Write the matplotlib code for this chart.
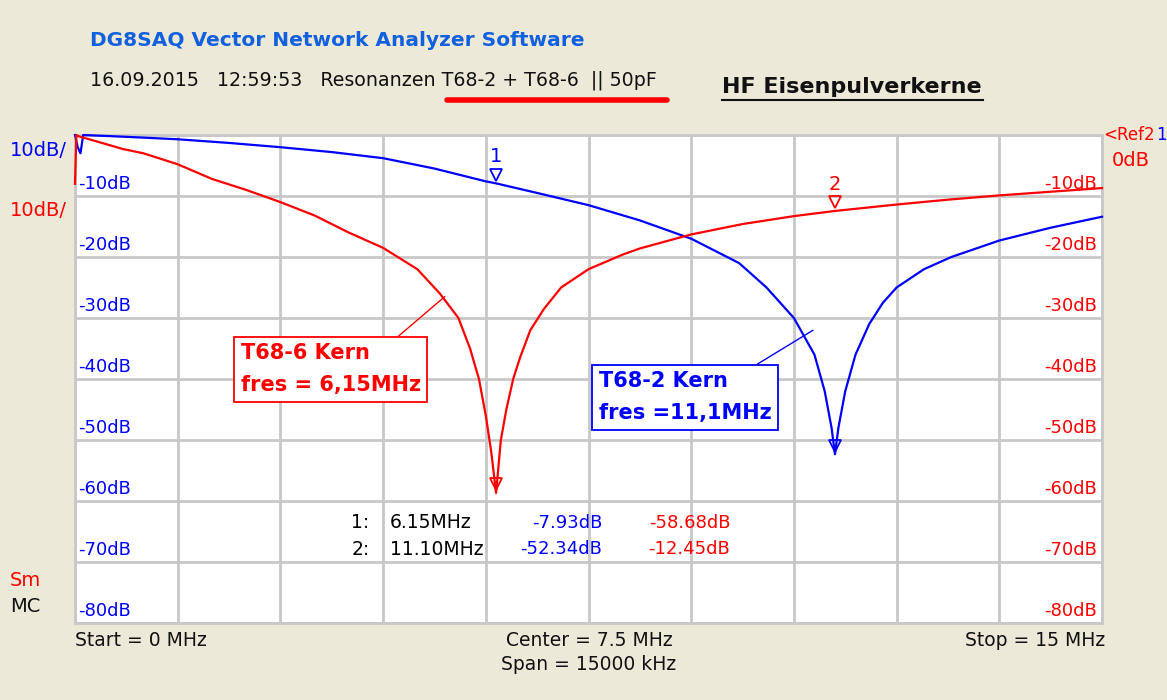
import matplotlib
matplotlib.use("Agg")
import matplotlib.pyplot as plt
from matplotlib.lines import Line2D

# ---- data ----
freq_red = [0.0, 0.02, 0.05, 0.3, 0.7, 1.0, 1.5, 2.0, 2.5, 3.0, 3.5, 4.0, 4.5, 5.0, 5.33, 5.6, 5.77,
            5.9, 6.0, 6.08, 6.15, 6.22, 6.3, 6.4, 6.5, 6.65, 6.85, 7.1, 7.5, 8.0, 8.25, 9.0, 9.75,
            10.5, 11.1, 12.0, 12.75, 13.5, 14.25, 15.0]
db_red = [-8.0, 0.0, -0.2, -1.0, -2.3, -3.0, -4.8, -7.2, -9.0, -11.0, -13.2, -16.0, -18.5, -22.0,
          -26.0, -30.0, -35.0, -40.0, -46.0, -52.0, -58.68, -50.0, -45.0, -40.0, -36.5, -32.0,
          -28.5, -25.0, -22.0, -19.6, -18.6, -16.3, -14.6, -13.3, -12.45, -11.4, -10.6, -9.9,
          -9.3, -8.7]
freq_blue = [0.0, 0.04, 0.08, 0.12, 0.75, 1.5, 2.25, 3.0, 3.75, 4.5, 5.25, 6.0, 6.15, 6.75, 7.5, 8.25,
             9.0, 9.7, 10.1, 10.5, 10.8, 10.95, 11.05, 11.1, 11.15, 11.25, 11.4, 11.6, 11.8, 12.0,
             12.4, 12.8, 13.5, 14.25, 15.0]
db_blue = [0.0, -2.0, -3.0, 0.0, -0.3, -0.7, -1.3, -2.0, -2.8, -3.8, -5.5, -7.6, -7.93, -9.5, -11.5,
           -14.0, -17.0, -21.0, -25.0, -30.0, -36.0, -42.0, -48.0, -52.34, -48.0, -42.0, -36.0,
           -31.0, -27.5, -25.0, -22.0, -20.0, -17.3, -15.2, -13.4]
marker_freq = [6.15, 11.10]
marker_blue = [-7.93, -52.34]
marker_red = [-58.68, -12.45]
yticks = [-10, -20, -30, -40, -50, -60, -70, -80]

BG = "#ECE9D8"
BLUE = "#0000FF"
RED = "#FF0000"
GRID = "#C8C8C8"
FONT = "DejaVu Sans"

W, H = 1167, 700
fig = plt.figure(figsize=(W / 100, H / 100), dpi=100, facecolor=BG)

def fx(px):
    return px / W

def fy(py):
    return 1 - py / H

L, R, T, B = 75, 1102, 135, 623
ax = fig.add_axes([fx(L), fy(B), (R - L) / W, (B - T) / H])
ax.set_facecolor("white")
ax.set_xlim(0, 15)
ax.set_ylim(-80, 0)
for x in [i * 1.5 for i in range(11)]:
    ax.axvline(x, color=GRID, lw=2, zorder=1)
for y in range(-80, 1, 10):
    ax.axhline(y, color=GRID, lw=2, zorder=1)
ax.set_xticks([])
ax.set_yticks([])
for s in ax.spines.values():
    s.set_color(GRID)
    s.set_linewidth(2)

ax.plot(freq_blue, db_blue, color=BLUE, lw=1.6, zorder=3, clip_on=False)
ax.plot(freq_red, db_red, color=RED, lw=1.6, zorder=3, clip_on=False)

# markers
ax.plot([marker_freq[0]], [marker_blue[0] + 1.4], marker="v", ms=9, mfc="none", mec=BLUE, mew=1.3, zorder=4)
ax.text(marker_freq[0], marker_blue[0] + 2.8, "1", color=BLUE, ha="center", va="bottom", fontsize=14, family=FONT)
ax.plot([marker_freq[1]], [marker_red[1] + 1.4], marker="v", ms=9, mfc="none", mec=RED, mew=1.3, zorder=4)
ax.text(marker_freq[1], marker_red[1] + 2.8, "2", color=RED, ha="center", va="bottom", fontsize=14, family=FONT)
ax.plot([marker_freq[0]], [marker_red[0] + 1.4], marker="v", ms=9, mfc="none", mec=RED, mew=1.3, zorder=4)
ax.plot([marker_freq[1]], [marker_blue[1] + 1.4], marker="v", ms=9, mfc="none", mec=BLUE, mew=1.3, zorder=4)

# y labels inside
for v in yticks:
    ax.text(0.05, v + 0.5, f"{v}dB", color=BLUE, ha="left", va="bottom", fontsize=13, family=FONT)
    ax.text(14.93, v + 0.5, f"{v}dB", color=RED, ha="right", va="bottom", fontsize=13, family=FONT)

# marker table
rows_y = [-63.6, -67.9]
for i in range(2):
    ax.text(4.3, rows_y[i], f"{i + 1}:", color="black", ha="right", va="center", fontsize=13.5, family=FONT)
    ax.text(4.6, rows_y[i], f"{marker_freq[i]:.2f}MHz", color="black", ha="left", va="center", fontsize=13.5, family=FONT)
    ax.text(7.7, rows_y[i], f"{marker_blue[i]:.2f}dB", color=BLUE, ha="right", va="center", fontsize=13, family=FONT)
    ax.text(9.57, rows_y[i], f"{marker_red[i]:.2f}dB", color=RED, ha="right", va="center", fontsize=13, family=FONT)

# annotation boxes
ax.annotate("T68-6 Kern\nfres = 6,15MHz", xy=(5.4, -26.5), xytext=(2.42, -38.4),
            color=RED, fontsize=15, fontweight="bold", family=FONT, ha="left", va="center",
            linespacing=1.75,
            bbox=dict(boxstyle="square,pad=0.32", fc="white", ec=RED, lw=1.3),
            arrowprops=dict(arrowstyle="-", color=RED, lw=1, shrinkA=0, shrinkB=0,
                            relpos=(0.83, 1.0)), zorder=5)
ax.annotate("T68-2 Kern\nfres =11,1MHz", xy=(10.78, -32.0), xytext=(7.65, -43.0),
            color=BLUE, fontsize=15, fontweight="bold", family=FONT, ha="left", va="center",
            linespacing=1.75,
            bbox=dict(boxstyle="square,pad=0.32", fc="white", ec=BLUE, lw=1.3),
            arrowprops=dict(arrowstyle="-", color=BLUE, lw=1, shrinkA=0, shrinkB=0,
                            relpos=(0.85, 1.0)), zorder=5)

# figure texts
def ftext(px, py, s, **kw):
    kw.setdefault("family", FONT)
    kw.setdefault("fontsize", 13)
    return fig.text(fx(px), fy(py), s, **kw)

ftext(90, 40, "DG8SAQ Vector Network Analyzer Software", color="#1060E0", fontweight="bold",
      fontsize=14.5, va="center", ha="left")
ftext(90, 80, "16.09.2015   12:59:53   Resonanzen T68-2 + T68-6  || 50pF", color="#111111",
      va="center", ha="left", fontsize=13.7)
fig.add_artist(Line2D([fx(447), fx(667)], [fy(100), fy(100)], color=RED, lw=4, solid_capstyle="round"))
ftext(722, 87, "HF Eisenpulverkerne", color="#111111", fontweight="bold", fontsize=16, va="center", ha="left")
fig.add_artist(Line2D([fx(722), fx(983)], [fy(100), fy(100)], color="#111111", lw=1.5))

ftext(10, 150, "10dB/", color=BLUE, va="center", ha="left", fontsize=14)
ftext(10, 210, "10dB/", color=RED, va="center", ha="left", fontsize=14)
ftext(10, 580, "Sm", color=RED, va="center", ha="left", fontsize=14)
ftext(10, 606, "MC", color="#111111", va="center", ha="left", fontsize=14)
ftext(1103, 135, "<Ref2", color=RED, va="center", ha="left", fontsize=12)
ftext(1156, 135, "1", color=BLUE, va="center", ha="left", fontsize=12)
ftext(1112, 160, "0dB", color=RED, va="center", ha="left", fontsize=14)

ftext(75, 641, "Start = 0 MHz", color="#111111", va="center", ha="left", fontsize=13.5)
ftext(589, 641, "Center = 7.5 MHz", color="#111111", va="center", ha="center", fontsize=13.5)
ftext(589, 665, "Span = 15000 kHz", color="#111111", va="center", ha="center", fontsize=13.5)
ftext(1105, 641, "Stop = 15 MHz", color="#111111", va="center", ha="right", fontsize=13.5)

fig.savefig("out.png", dpi=100, facecolor=BG)
